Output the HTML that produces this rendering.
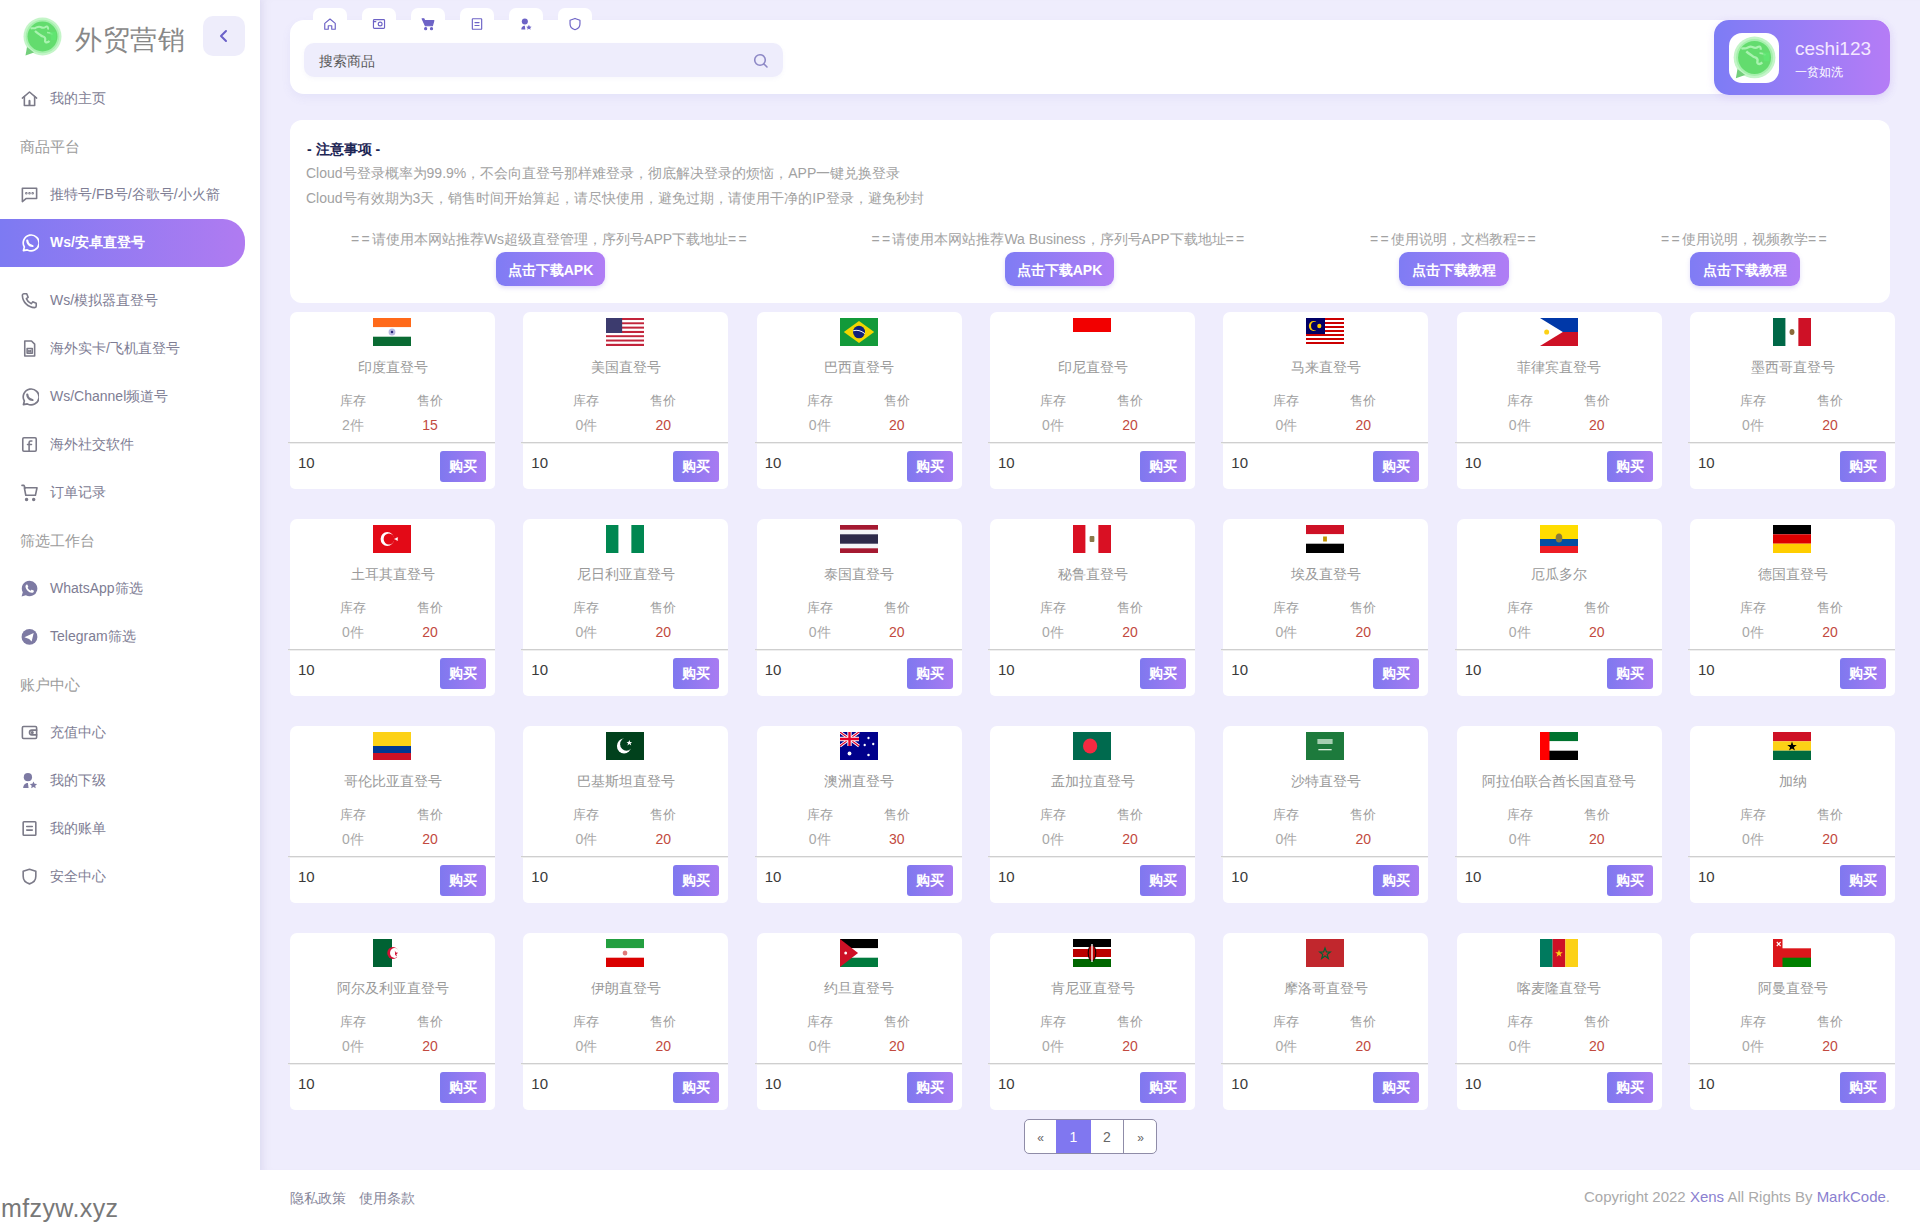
<!DOCTYPE html>
<html><head><meta charset="utf-8"><title>外贸营销</title>
<style>
*{box-sizing:border-box;margin:0;padding:0}
html,body{width:1920px;height:1225px;overflow:hidden}
body{font-family:"Liberation Sans",sans-serif;background:#fff;position:relative;color:#333}
#main{position:absolute;left:260px;top:0;width:1660px;height:1170px;background:#efedfd;box-shadow:inset 10px 0 10px -6px rgba(90,90,120,.06)}
#side{position:absolute;left:0;top:0;width:260px;height:1225px;background:#fff;box-shadow:2px 0 6px rgba(120,110,180,.06)}
.logo{position:absolute;left:22px;top:17px}
.brand{position:absolute;left:75px;top:22px;font-size:27px;color:#888;line-height:36px;letter-spacing:0.6px}
.collapse{position:absolute;left:203px;top:16px;width:42px;height:40px;border-radius:10px;background:#eeedfb}
.collapse svg{position:absolute;left:14px;top:13px}
.mi{position:absolute;left:0;width:245px;height:20px;margin-top:-10px;color:#7e7d94;font-size:14px;line-height:20px}
.mi .mico{position:absolute;left:20px;top:1px;width:19px;height:19px;color:#7b7a88}
.mi .mico.f{color:#7d7aa3}
.mi.act .mico{color:#fff}
.mi .mtx{position:absolute;left:50px;top:0;white-space:nowrap}
.mi.act{color:#fff;font-weight:bold}
.actbar{position:absolute;left:0;top:219px;width:245px;height:48px;border-radius:0 22px 22px 0;background:linear-gradient(90deg,#7d7af2 0%,#b07bf1 100%)}
.sec{position:absolute;left:20px;height:20px;margin-top:-10px;font-size:15px;line-height:20px;color:#9c9c9c}
.hdr{position:absolute;left:290px;top:20px;width:1600px;height:74px;background:#fff;border-radius:14px;box-shadow:0 4px 10px rgba(120,110,200,.08)}
.tab{position:absolute;top:8px;width:34px;height:30px;background:#fff;border-radius:7px 7px 0 0;color:#6d63c6}
.tab span{position:absolute;left:10px;top:9px;width:14px;height:14px;display:block}
.tab svg{display:block}
.search{position:absolute;left:304px;top:43px;width:479px;height:34px;border-radius:10px;background:#eeedfc;box-shadow:0 2px 4px rgba(120,110,200,.05)}
.search .ph{position:absolute;left:15px;top:10px;font-size:14px;line-height:16px;color:#5a5a5a}
.search svg{position:absolute;left:449px;top:10px}
.user{position:absolute;left:1714px;top:20px;width:176px;height:75px;border-radius:15px;background:linear-gradient(90deg,#7d7cf5 0%,#b57cf6 100%);box-shadow:0 2px 8px rgba(180,130,240,.2)}
.avatar{position:absolute;left:15px;top:13px;width:50px;height:50px;border-radius:13px;background:#fff}
.avatar svg{position:absolute;left:3px;top:3px}
.uname{position:absolute;left:81px;top:17px;font-size:19px;line-height:24px;color:#f5e8ff}
.urank{position:absolute;left:81px;top:44px;font-size:12px;line-height:16px;color:#fff}
.notice{position:absolute;left:290px;top:120px;width:1600px;height:183px;background:#fff;border-radius:12px}
.ntitle{position:absolute;left:17px;top:20px;font-size:14px;line-height:18px;font-weight:bold;color:#1d2655}
.nline{position:absolute;left:16px;font-size:14px;line-height:18px;color:#a2a2a2;white-space:nowrap}
.dl{position:absolute;top:110px;width:0}
.dl .t{position:absolute;left:-300px;width:600px;text-align:center;font-size:14px;line-height:18px;color:#a2a2a2;white-space:nowrap}
.eq{font-style:normal;letter-spacing:2.3px}
.dl .b{position:absolute;top:22px;height:34px;border-radius:9px;background:linear-gradient(90deg,#7f7cf4 0%,#b07df5 100%);color:#fff;font-size:14px;line-height:36px;font-weight:bold;text-align:center;box-shadow:0 2px 4px rgba(140,120,230,.25)}
.card{position:absolute;width:205px;height:177px;background:#fff;border-radius:7px 7px 5px 5px}
.flag{position:absolute;left:83px;top:6px;display:block}
.pname{position:absolute;left:0;width:205px;top:46px;text-align:center;font-size:14px;line-height:18px;color:#999;white-space:nowrap}
.lab{position:absolute;top:81px;width:60px;text-align:center;font-size:13px;line-height:16px;color:#9e9e9e}
.val{position:absolute;top:104px;width:60px;text-align:center;font-size:14px;line-height:18px;color:#a8a8a8}
.l1,.v1{left:33px}.l2,.v2{left:110px}
.price{color:#c24a40}
.div{position:absolute;left:-2px;top:130px;width:207px;height:1px;background:#cfcfcf;box-shadow:0 1px 0 #eeeeee}
.qty{position:absolute;left:8px;top:142px;font-size:15px;line-height:18px;color:#3a3a3a}
.buy{position:absolute;left:150px;top:139px;width:46px;height:31px;border-radius:3px;background:linear-gradient(90deg,#7f78ef 0%,#a87bf2 100%);color:#fff;font-size:14px;line-height:31px;text-align:center;font-weight:bold}
.pager{position:absolute;left:1024px;top:1119px;width:133px;height:35px;border:1px solid #8f8ca8;border-radius:5px;background:#fff;overflow:hidden}
.pg{position:absolute;top:0;height:33px;line-height:34px;text-align:center;font-size:14px;color:#666}
.footer{position:absolute;left:260px;top:1170px;width:1660px;height:55px;background:#fff}
.flinks{position:absolute;left:30px;top:20px;font-size:14px;line-height:17px;color:#86869a}
.copy{position:absolute;right:30px;top:18px;font-size:15px;line-height:18px;color:#aaa}
.copy a{color:#8a80d0;text-decoration:none}
.wm{position:absolute;left:1px;top:1193px;font-size:25px;line-height:30px;color:#787878;letter-spacing:0.4px}
</style></head><body>
<div id="main"></div>
<div id="side">
<div class="logo"><svg width="40" height="40" viewBox="0 0 40 40"><circle cx="20.5" cy="19.5" r="19" fill="#c4f5c8"/><path d="M5 30 L3.5 38.5 L12 35.5z" fill="#74cf7c"/><circle cx="20.5" cy="19.5" r="16.8" fill="#a6f0ad"/><circle cx="20.5" cy="19.5" r="15" fill="#63dc6e"/><path d="M8.5 11.5c2-1 3 .5 5-.5s3-2 5-1 3 1.5 5 0 3 1 2.5 2.5" fill="none" stroke="#a9f3af" stroke-width="2"/><path d="M13 14c2 2 4 3 6 4.5s3 .5 4 2.5-1 3 .5 4 3 0 4-1" fill="none" stroke="#a9f3af" stroke-width="2.2"/><path d="M25 15.5c2 0 4 .5 5.5 2" fill="none" stroke="#9ef0a5" stroke-width="1.6"/><path d="M28 15h6v8h-5z" fill="#5fe873" opacity=".7"/></svg></div>
<div class="brand">外贸营销</div>
<div class="collapse"><svg width="14" height="14" viewBox="0 0 14 14"><path d="M9 2L4 7l5 5" fill="none" stroke="#6a60c8" stroke-width="2" stroke-linecap="round" stroke-linejoin="round"/></svg></div>
<div class="mi" style="top:98px"><span class="mico"><svg width="19" height="19" viewBox="0 0 24 24" fill="none" stroke="currentColor" stroke-width="2" stroke-linecap="round" stroke-linejoin="round" ><path d="M3 11.5L12 3.8l9 7.7"/><path d="M5.5 9.5v11.3h13V9.5"/><path d="M12 15v5" stroke-width="2.6"/></svg></span><span class="mtx">我的主页</span></div>
<div class="sec" style="top:147px">商品平台</div>
<div class="mi" style="top:194px"><span class="mico"><svg width="19" height="19" viewBox="0 0 24 24" fill="none" stroke="currentColor" stroke-width="2" stroke-linecap="round" stroke-linejoin="round" ><path d="M3 4h18v13H8l-5 4z"/><circle cx="8" cy="10.5" r=".6"/><circle cx="12" cy="10.5" r=".6"/><circle cx="16" cy="10.5" r=".6"/></svg></span><span class="mtx">推特号/FB号/谷歌号/小火箭</span></div>
<div class="actbar"></div><div class="mi act" style="top:242px"><span class="mico"><svg width="19" height="19" viewBox="0 0 24 24" fill="none" stroke="currentColor" stroke-width="2" stroke-linecap="round" stroke-linejoin="round" ><path d="M4.3 22.3l1.2-4.6A10 10 0 1 1 9.2 21.3z" stroke-width="2.1"/><path d="M9.2 9.6c.3 3.4 3 6.2 6.6 6.8" stroke-width="2.8"/></svg></span><span class="mtx">Ws/安卓直登号</span></div>
<div class="mi" style="top:300px"><span class="mico"><svg width="19" height="19" viewBox="0 0 24 24" fill="none" stroke="currentColor" stroke-width="2" stroke-linecap="round" stroke-linejoin="round" ><path d="M5 3.5h3.5l1.8 4.5-2.3 1.6a11 11 0 0 0 6.4 6.4l1.6-2.3 4.5 1.8V19a2 2 0 0 1-2 2A16 16 0 0 1 3 5.5a2 2 0 0 1 2-2z"/></svg></span><span class="mtx">Ws/模拟器直登号</span></div>
<div class="mi" style="top:348px"><span class="mico"><svg width="19" height="19" viewBox="0 0 24 24" fill="none" stroke="currentColor" stroke-width="2" stroke-linecap="round" stroke-linejoin="round" ><path d="M6 2.5h8.5l4 4v15H6z"/><rect x="9" y="12" width="6.5" height="6"/><path d="M11.2 14.5v2M13.3 14.5v2"/></svg></span><span class="mtx">海外实卡/飞机直登号</span></div>
<div class="mi" style="top:396px"><span class="mico"><svg width="19" height="19" viewBox="0 0 24 24" fill="none" stroke="currentColor" stroke-width="2" stroke-linecap="round" stroke-linejoin="round" ><path d="M4.3 22.3l1.2-4.6A10 10 0 1 1 9.2 21.3z" stroke-width="2.1"/><path d="M9.2 9.6c.3 3.4 3 6.2 6.6 6.8" stroke-width="2.8"/></svg></span><span class="mtx">Ws/Channel频道号</span></div>
<div class="mi" style="top:444px"><span class="mico"><svg width="19" height="19" viewBox="0 0 24 24" fill="none" stroke="currentColor" stroke-width="2" stroke-linecap="round" stroke-linejoin="round" ><rect x="3.5" y="3.5" width="17" height="17" rx="1.5"/><path d="M15 7.5h-1.6c-1.2 0-1.9.7-1.9 2v11M9.5 12h5"/></svg></span><span class="mtx">海外社交软件</span></div>
<div class="mi" style="top:492px"><span class="mico"><svg width="19" height="19" viewBox="0 0 24 24" fill="none" stroke="currentColor" stroke-width="2" stroke-linecap="round" stroke-linejoin="round" ><path d="M2.5 3h2.5l1.5 3.5"/><path d="M5.5 6h16l-2 9.5H7.3z"/><circle cx="8.3" cy="20.8" r="1.2" fill="currentColor"/><circle cx="17.3" cy="20.8" r="1.2" fill="currentColor"/></svg></span><span class="mtx">订单记录</span></div>
<div class="sec" style="top:541px">筛选工作台</div>
<div class="mi" style="top:588px"><span class="mico f"><svg width="19" height="19" viewBox="0 0 24 24" ><path fill="currentColor" d="M12 2.2a9.8 9.8 0 0 0-8.5 14.6L2 22l5.4-1.4A9.8 9.8 0 1 0 12 2.2z"/><path fill="#fff" d="M8.6 6.8c.3 0 .6 0 .8.5l1 2.2c.1.3 0 .6-.2.8l-.7.8c.9 1.6 2.2 2.8 3.9 3.6l.8-.9c.2-.3.5-.3.8-.2l2.2 1c.3.2.4.5.3.8-.2 1.3-1.3 2.2-2.6 2.1-3.9-.4-7.6-4-8-8-.1-1.3.8-2.5 1.7-2.7z"/></svg></span><span class="mtx">WhatsApp筛选</span></div>
<div class="mi" style="top:636px"><span class="mico f"><svg width="19" height="19" viewBox="0 0 24 24" ><circle cx="12" cy="12.5" r="10" fill="currentColor"/><path fill="#fff" d="M5.5 12.8l11.8-5.3-2.6 10.8-3.2-3.3z"/></svg></span><span class="mtx">Telegram筛选</span></div>
<div class="sec" style="top:685px">账户中心</div>
<div class="mi" style="top:732px"><span class="mico"><svg width="19" height="19" viewBox="0 0 24 24" fill="none" stroke="currentColor" stroke-width="2" stroke-linecap="round" stroke-linejoin="round" ><rect x="3" y="4.5" width="18" height="15" rx="1.5"/><path d="M21 9h-6a3 3 0 0 0 0 6h6"/><circle cx="15.5" cy="12" r="1"/></svg></span><span class="mtx">充值中心</span></div>
<div class="mi" style="top:780px"><span class="mico f"><svg width="19" height="19" viewBox="0 0 24 24" ><circle cx="10" cy="7.8" r="5.2" fill="currentColor"/><path fill="currentColor" d="M4 21.5c0-3.2 1.8-5.6 4.6-6.3l1.4-.2.8 6.5z"/><polygon fill="currentColor" points="17,13.2 18.4,16.2 21.6,16.5 19.2,18.7 19.9,21.8 17,20.2 14.1,21.8 14.8,18.7 12.4,16.5 15.6,16.2"/></svg></span><span class="mtx">我的下级</span></div>
<div class="mi" style="top:828px"><span class="mico"><svg width="19" height="19" viewBox="0 0 24 24" fill="none" stroke="currentColor" stroke-width="2" stroke-linecap="round" stroke-linejoin="round" ><rect x="4" y="3.5" width="16" height="17" rx="1"/><path d="M8.5 9.5h7M8.5 14h7"/></svg></span><span class="mtx">我的账单</span></div>
<div class="mi" style="top:876px"><span class="mico"><svg width="19" height="19" viewBox="0 0 24 24" fill="none" stroke="currentColor" stroke-width="2" stroke-linecap="round" stroke-linejoin="round" ><path d="M12 2.8l8 2.7v6.2c0 4.7-3.3 8.3-8 9.6-4.7-1.3-8-4.9-8-9.6V5.5z"/></svg></span><span class="mtx">安全中心</span></div>

</div>
<div class="hdr"></div>
<div class="tab" style="left:313px"><span><svg width="14" height="14" viewBox="0 0 24 24" fill="none" stroke="currentColor" stroke-width="2" stroke-linecap="round" stroke-linejoin="round" stroke-width="2.6"><path d="M3 11L12 3.5 21 11v10h-6v-6h-6v6H3z"/></svg></span></div><div class="tab" style="left:362px"><span><svg width="14" height="14" viewBox="0 0 24 24" fill="none" stroke="currentColor" stroke-width="2" stroke-linecap="round" stroke-linejoin="round" stroke-width="2.3"><rect x="2.5" y="4.5" width="19" height="15" rx="1.5"/><circle cx="14" cy="12" r="3.3"/><path d="M2.5 8h4"/></svg></span></div><div class="tab" style="left:411px"><span><svg width="14" height="14" viewBox="0 0 24 24" fill="none" stroke="currentColor" stroke-width="2" stroke-linecap="round" stroke-linejoin="round" stroke-width="1.5"><path d="M2 3h3l1 3h16l-2.5 9H7.5z" fill="currentColor"/><circle cx="8" cy="20" r="1.8" fill="currentColor"/><circle cx="18" cy="20" r="1.8" fill="currentColor"/></svg></span></div><div class="tab" style="left:460px"><span><svg width="14" height="14" viewBox="0 0 24 24" fill="none" stroke="currentColor" stroke-width="2" stroke-linecap="round" stroke-linejoin="round" stroke-width="2.3"><rect x="4" y="3" width="16" height="18" rx="1"/><path d="M8.5 9.5h7M8.5 14.5h7"/></svg></span></div><div class="tab" style="left:509px"><span><svg width="14" height="14" viewBox="0 0 24 24" ><circle cx="10" cy="7.8" r="5.2" fill="currentColor"/><path fill="currentColor" d="M4 21.5c0-3.2 1.8-5.6 4.6-6.3l1.4-.2.8 6.5z"/><polygon fill="currentColor" points="17,13.2 18.4,16.2 21.6,16.5 19.2,18.7 19.9,21.8 17,20.2 14.1,21.8 14.8,18.7 12.4,16.5 15.6,16.2"/></svg></span></div><div class="tab" style="left:558px"><span><svg width="14" height="14" viewBox="0 0 24 24" fill="none" stroke="currentColor" stroke-width="2" stroke-linecap="round" stroke-linejoin="round" stroke-width="2.3"><path d="M12 2.5l8.5 3v6.5c0 4.8-3.5 8.4-8.5 9.8-5-1.4-8.5-5-8.5-9.8V5.5z"/></svg></span></div>
<div class="search"><span class="ph">搜索商品</span><svg width="16" height="16" viewBox="0 0 16 16"><circle cx="7" cy="7" r="5.3" fill="none" stroke="#8d88c6" stroke-width="1.6"/><path d="M11 11l3 3" stroke="#8d88c6" stroke-width="1.6" stroke-linecap="round"/></svg></div>
<div class="user"><div class="avatar"><svg width="44" height="44" viewBox="0 0 40 40"><circle cx="20.5" cy="19.5" r="19" fill="#c4f5c8"/><path d="M5 30 L3.5 38.5 L12 35.5z" fill="#74cf7c"/><circle cx="20.5" cy="19.5" r="16.8" fill="#a6f0ad"/><circle cx="20.5" cy="19.5" r="15" fill="#63dc6e"/><path d="M8.5 11.5c2-1 3 .5 5-.5s3-2 5-1 3 1.5 5 0 3 1 2.5 2.5" fill="none" stroke="#a9f3af" stroke-width="2"/><path d="M13 14c2 2 4 3 6 4.5s3 .5 4 2.5-1 3 .5 4 3 0 4-1" fill="none" stroke="#a9f3af" stroke-width="2.2"/><path d="M25 15.5c2 0 4 .5 5.5 2" fill="none" stroke="#9ef0a5" stroke-width="1.6"/><path d="M28 15h6v8h-5z" fill="#5fe873" opacity=".7"/></svg></div><div class="uname">ceshi123</div><div class="urank">一贫如洗</div></div>
<div class="notice">
<div class="ntitle">- 注意事项 -</div>
<div class="nline" style="top:44px">Cloud号登录概率为99.9%，不会向直登号那样难登录，彻底解决登录的烦恼，APP一键兑换登录</div>
<div class="nline" style="top:69px">Cloud号有效期为3天，销售时间开始算起，请尽快使用，避免过期，请使用干净的IP登录，避免秒封</div>
<div class="dl" style="left:260px"><div class="t"><i class="eq">==</i>请使用本网站推荐Ws超级直登管理，序列号APP下载地址<i class="eq">==</i></div><div class="b" style="left:-54px;width:109px">点击下载APK</div></div>
<div class="dl" style="left:769px"><div class="t"><i class="eq">==</i>请使用本网站推荐Wa Business，序列号APP下载地址<i class="eq">==</i></div><div class="b" style="left:-54px;width:109px">点击下载APK</div></div>
<div class="dl" style="left:1164px"><div class="t"><i class="eq">==</i>使用说明，文档教程<i class="eq">==</i></div><div class="b" style="left:-55px;width:110px">点击下载教程</div></div>
<div class="dl" style="left:1455px"><div class="t"><i class="eq">==</i>使用说明，视频教学<i class="eq">==</i></div><div class="b" style="left:-55px;width:110px">点击下载教程</div></div>
</div>
<div class="card" style="left:290.0px;top:312px"><svg class="flag" width="38" height="28" viewBox="0 0 40 28" preserveAspectRatio="none"><rect width="40" height="9.3" fill="#ff6a1a"/><rect y="9.3" width="40" height="9.4" fill="#fff"/><rect y="18.7" width="40" height="9.3" fill="#0a6b33"/><circle cx="20" cy="14" r="3.6" fill="#b9b8e0"/><circle cx="20" cy="14" r="1.3" fill="#26267a"/></svg><div class="pname">印度直登号</div>
<div class="lab l1">库存</div><div class="lab l2">售价</div><div class="val v1">2件</div><div class="val v2 price">15</div>
<div class="div"></div><div class="qty">10</div><div class="buy">购买</div></div>
<div class="card" style="left:523.3px;top:312px"><svg class="flag" width="38" height="28" viewBox="0 0 40 28" preserveAspectRatio="none"><rect y="0.00" width="40" height="2.20" fill="#c2243b"/><rect y="2.15" width="40" height="2.20" fill="#fff"/><rect y="4.31" width="40" height="2.20" fill="#c2243b"/><rect y="6.46" width="40" height="2.20" fill="#fff"/><rect y="8.62" width="40" height="2.20" fill="#c2243b"/><rect y="10.77" width="40" height="2.20" fill="#fff"/><rect y="12.92" width="40" height="2.20" fill="#c2243b"/><rect y="15.08" width="40" height="2.20" fill="#fff"/><rect y="17.23" width="40" height="2.20" fill="#c2243b"/><rect y="19.38" width="40" height="2.20" fill="#fff"/><rect y="21.54" width="40" height="2.20" fill="#c2243b"/><rect y="23.69" width="40" height="2.20" fill="#fff"/><rect y="25.85" width="40" height="2.20" fill="#c2243b"/><rect width="17" height="15" fill="#3c3b6e"/></svg><div class="pname">美国直登号</div>
<div class="lab l1">库存</div><div class="lab l2">售价</div><div class="val v1">0件</div><div class="val v2 price">20</div>
<div class="div"></div><div class="qty">10</div><div class="buy">购买</div></div>
<div class="card" style="left:756.7px;top:312px"><svg class="flag" width="38" height="28" viewBox="0 0 40 28" preserveAspectRatio="none"><rect width="40" height="28" fill="#139a3a"/><polygon points="20,3 36,14 20,25 4,14" fill="#f2d600"/><circle cx="20" cy="14" r="6.3" fill="#12217a"/><path d="M13.8 12.8 Q20 11 26.2 15.6" stroke="#fff" stroke-width="1" fill="none"/></svg><div class="pname">巴西直登号</div>
<div class="lab l1">库存</div><div class="lab l2">售价</div><div class="val v1">0件</div><div class="val v2 price">20</div>
<div class="div"></div><div class="qty">10</div><div class="buy">购买</div></div>
<div class="card" style="left:990.0px;top:312px"><svg class="flag" width="38" height="28" viewBox="0 0 40 28" preserveAspectRatio="none"><rect width="40" height="14" fill="#f20000"/></svg><div class="pname">印尼直登号</div>
<div class="lab l1">库存</div><div class="lab l2">售价</div><div class="val v1">0件</div><div class="val v2 price">20</div>
<div class="div"></div><div class="qty">10</div><div class="buy">购买</div></div>
<div class="card" style="left:1223.3px;top:312px"><svg class="flag" width="38" height="28" viewBox="0 0 40 28" preserveAspectRatio="none"><rect y="0.00" width="40" height="2.05" fill="#cc0001"/><rect y="2.00" width="40" height="2.05" fill="#fff"/><rect y="4.00" width="40" height="2.05" fill="#cc0001"/><rect y="6.00" width="40" height="2.05" fill="#fff"/><rect y="8.00" width="40" height="2.05" fill="#cc0001"/><rect y="10.00" width="40" height="2.05" fill="#fff"/><rect y="12.00" width="40" height="2.05" fill="#cc0001"/><rect y="14.00" width="40" height="2.05" fill="#fff"/><rect y="16.00" width="40" height="2.05" fill="#cc0001"/><rect y="18.00" width="40" height="2.05" fill="#fff"/><rect y="20.00" width="40" height="2.05" fill="#cc0001"/><rect y="22.00" width="40" height="2.05" fill="#fff"/><rect y="24.00" width="40" height="2.05" fill="#cc0001"/><rect y="26.00" width="40" height="2.05" fill="#fff"/><rect width="20" height="16" fill="#010066"/><circle cx="8" cy="8" r="5" fill="#fc0"/><circle cx="9.5" cy="8" r="4.2" fill="#010066"/><circle cx="14" cy="8" r="2.2" fill="#fc0"/></svg><div class="pname">马来直登号</div>
<div class="lab l1">库存</div><div class="lab l2">售价</div><div class="val v1">0件</div><div class="val v2 price">20</div>
<div class="div"></div><div class="qty">10</div><div class="buy">购买</div></div>
<div class="card" style="left:1456.7px;top:312px"><svg class="flag" width="38" height="28" viewBox="0 0 40 28" preserveAspectRatio="none"><rect width="40" height="14" fill="#0038a8"/><rect y="14" width="40" height="14" fill="#ce1126"/><polygon points="0,0 24,14 0,28" fill="#fff"/><circle cx="7" cy="14" r="2.6" fill="#fcd116"/></svg><div class="pname">菲律宾直登号</div>
<div class="lab l1">库存</div><div class="lab l2">售价</div><div class="val v1">0件</div><div class="val v2 price">20</div>
<div class="div"></div><div class="qty">10</div><div class="buy">购买</div></div>
<div class="card" style="left:1690.0px;top:312px"><svg class="flag" width="38" height="28" viewBox="0 0 40 28" preserveAspectRatio="none"><rect width="13.3" height="28" fill="#006847"/><rect x="13.3" width="13.4" height="28" fill="#fff"/><rect x="26.7" width="13.3" height="28" fill="#ce1126"/><ellipse cx="20" cy="14" rx="2.6" ry="3" fill="#8a6a3a"/></svg><div class="pname">墨西哥直登号</div>
<div class="lab l1">库存</div><div class="lab l2">售价</div><div class="val v1">0件</div><div class="val v2 price">20</div>
<div class="div"></div><div class="qty">10</div><div class="buy">购买</div></div>
<div class="card" style="left:290.0px;top:519px"><svg class="flag" width="38" height="28" viewBox="0 0 40 28" preserveAspectRatio="none"><rect width="40" height="28" fill="#e30a17"/><circle cx="15" cy="14" r="7" fill="#fff"/><circle cx="16.8" cy="14" r="5.6" fill="#e30a17"/><polygon points="22,14 26.5,12.3 25,16.6 25,11.4 26.5,15.7" fill="#fff"/></svg><div class="pname">土耳其直登号</div>
<div class="lab l1">库存</div><div class="lab l2">售价</div><div class="val v1">0件</div><div class="val v2 price">20</div>
<div class="div"></div><div class="qty">10</div><div class="buy">购买</div></div>
<div class="card" style="left:523.3px;top:519px"><svg class="flag" width="38" height="28" viewBox="0 0 40 28" preserveAspectRatio="none"><rect width="13.3" height="28" fill="#008751"/><rect x="13.3" width="13.4" height="28" fill="#fff"/><rect x="26.7" width="13.3" height="28" fill="#008751"/></svg><div class="pname">尼日利亚直登号</div>
<div class="lab l1">库存</div><div class="lab l2">售价</div><div class="val v1">0件</div><div class="val v2 price">20</div>
<div class="div"></div><div class="qty">10</div><div class="buy">购买</div></div>
<div class="card" style="left:756.7px;top:519px"><svg class="flag" width="38" height="28" viewBox="0 0 40 28" preserveAspectRatio="none"><rect width="40" height="28" fill="#a51931"/><rect y="4.7" width="40" height="18.6" fill="#f4f5f8"/><rect y="9.3" width="40" height="9.4" fill="#2d2a4a"/></svg><div class="pname">泰国直登号</div>
<div class="lab l1">库存</div><div class="lab l2">售价</div><div class="val v1">0件</div><div class="val v2 price">20</div>
<div class="div"></div><div class="qty">10</div><div class="buy">购买</div></div>
<div class="card" style="left:990.0px;top:519px"><svg class="flag" width="38" height="28" viewBox="0 0 40 28" preserveAspectRatio="none"><rect width="13.3" height="28" fill="#d91023"/><rect x="13.3" width="13.4" height="28" fill="#fff"/><rect x="26.7" width="13.3" height="28" fill="#d91023"/><rect x="17.5" y="11" width="5" height="6" rx="1" fill="#8a7a4a"/></svg><div class="pname">秘鲁直登号</div>
<div class="lab l1">库存</div><div class="lab l2">售价</div><div class="val v1">0件</div><div class="val v2 price">20</div>
<div class="div"></div><div class="qty">10</div><div class="buy">购买</div></div>
<div class="card" style="left:1223.3px;top:519px"><svg class="flag" width="38" height="28" viewBox="0 0 40 28" preserveAspectRatio="none"><rect width="40" height="9.3" fill="#ce1126"/><rect y="9.3" width="40" height="9.4" fill="#fff"/><rect y="18.7" width="40" height="9.3" fill="#000"/><rect x="18" y="11.5" width="4" height="5" fill="#c09300"/></svg><div class="pname">埃及直登号</div>
<div class="lab l1">库存</div><div class="lab l2">售价</div><div class="val v1">0件</div><div class="val v2 price">20</div>
<div class="div"></div><div class="qty">10</div><div class="buy">购买</div></div>
<div class="card" style="left:1456.7px;top:519px"><svg class="flag" width="38" height="28" viewBox="0 0 40 28" preserveAspectRatio="none"><rect width="40" height="14" fill="#ffdd00"/><rect y="14" width="40" height="7" fill="#034ea2"/><rect y="21" width="40" height="7" fill="#ed1c24"/><ellipse cx="20" cy="13" rx="3.5" ry="4.5" fill="#8a7a3a"/></svg><div class="pname">厄瓜多尔</div>
<div class="lab l1">库存</div><div class="lab l2">售价</div><div class="val v1">0件</div><div class="val v2 price">20</div>
<div class="div"></div><div class="qty">10</div><div class="buy">购买</div></div>
<div class="card" style="left:1690.0px;top:519px"><svg class="flag" width="38" height="28" viewBox="0 0 40 28" preserveAspectRatio="none"><rect width="40" height="9.3" fill="#000"/><rect y="9.3" width="40" height="9.4" fill="#dd0000"/><rect y="18.7" width="40" height="9.3" fill="#ffce00"/></svg><div class="pname">德国直登号</div>
<div class="lab l1">库存</div><div class="lab l2">售价</div><div class="val v1">0件</div><div class="val v2 price">20</div>
<div class="div"></div><div class="qty">10</div><div class="buy">购买</div></div>
<div class="card" style="left:290.0px;top:726px"><svg class="flag" width="38" height="28" viewBox="0 0 40 28" preserveAspectRatio="none"><rect width="40" height="14" fill="#fcd116"/><rect y="14" width="40" height="7" fill="#003893"/><rect y="21" width="40" height="7" fill="#ce1126"/></svg><div class="pname">哥伦比亚直登号</div>
<div class="lab l1">库存</div><div class="lab l2">售价</div><div class="val v1">0件</div><div class="val v2 price">20</div>
<div class="div"></div><div class="qty">10</div><div class="buy">购买</div></div>
<div class="card" style="left:523.3px;top:726px"><svg class="flag" width="38" height="28" viewBox="0 0 40 28" preserveAspectRatio="none"><rect width="40" height="28" fill="#01411c"/><circle cx="19" cy="14" r="7.5" fill="#fff"/><circle cx="21.5" cy="12.2" r="6.6" fill="#01411c"/><polygon points="24.5,8 25.4,10 27.5,10 25.9,11.3 26.5,13.4 24.5,12.1 22.6,13.4 23.2,11.3 21.6,10 23.7,10" fill="#fff"/></svg><div class="pname">巴基斯坦直登号</div>
<div class="lab l1">库存</div><div class="lab l2">售价</div><div class="val v1">0件</div><div class="val v2 price">20</div>
<div class="div"></div><div class="qty">10</div><div class="buy">购买</div></div>
<div class="card" style="left:756.7px;top:726px"><svg class="flag" width="38" height="28" viewBox="0 0 40 28" preserveAspectRatio="none"><rect width="40" height="28" fill="#00008b"/><path d="M0 0L20 14M20 0L0 14" stroke="#fff" stroke-width="3"/><path d="M0 0L20 14M20 0L0 14" stroke="#e4002b" stroke-width="1.2"/><path d="M10 0V14M0 7H20" stroke="#fff" stroke-width="4.5"/><path d="M10 0V14M0 7H20" stroke="#e4002b" stroke-width="2.5"/><circle cx="10" cy="21.5" r="2" fill="#fff"/><circle cx="30" cy="6" r="1.2" fill="#fff"/><circle cx="35" cy="12" r="1.2" fill="#fff"/><circle cx="26" cy="13" r="1.2" fill="#fff"/><circle cx="30" cy="23" r="1.3" fill="#fff"/></svg><div class="pname">澳洲直登号</div>
<div class="lab l1">库存</div><div class="lab l2">售价</div><div class="val v1">0件</div><div class="val v2 price">30</div>
<div class="div"></div><div class="qty">10</div><div class="buy">购买</div></div>
<div class="card" style="left:990.0px;top:726px"><svg class="flag" width="38" height="28" viewBox="0 0 40 28" preserveAspectRatio="none"><rect width="40" height="28" fill="#006a4e"/><circle cx="18" cy="14" r="7.5" fill="#f42a41"/></svg><div class="pname">孟加拉直登号</div>
<div class="lab l1">库存</div><div class="lab l2">售价</div><div class="val v1">0件</div><div class="val v2 price">20</div>
<div class="div"></div><div class="qty">10</div><div class="buy">购买</div></div>
<div class="card" style="left:1223.3px;top:726px"><svg class="flag" width="38" height="28" viewBox="0 0 40 28" preserveAspectRatio="none"><rect width="40" height="28" fill="#1d7a3c"/><rect x="12" y="7" width="16" height="5" fill="#c9e5cf" opacity=".8"/><rect x="13" y="17" width="14" height="1.3" fill="#d9eedd"/></svg><div class="pname">沙特直登号</div>
<div class="lab l1">库存</div><div class="lab l2">售价</div><div class="val v1">0件</div><div class="val v2 price">20</div>
<div class="div"></div><div class="qty">10</div><div class="buy">购买</div></div>
<div class="card" style="left:1456.7px;top:726px"><svg class="flag" width="38" height="28" viewBox="0 0 40 28" preserveAspectRatio="none"><rect width="40" height="9.3" fill="#00732f"/><rect y="9.3" width="40" height="9.4" fill="#fff"/><rect y="18.7" width="40" height="9.3" fill="#000"/><rect width="10" height="28" fill="#ff0000"/></svg><div class="pname">阿拉伯联合酋长国直登号</div>
<div class="lab l1">库存</div><div class="lab l2">售价</div><div class="val v1">0件</div><div class="val v2 price">20</div>
<div class="div"></div><div class="qty">10</div><div class="buy">购买</div></div>
<div class="card" style="left:1690.0px;top:726px"><svg class="flag" width="38" height="28" viewBox="0 0 40 28" preserveAspectRatio="none"><rect width="40" height="9.3" fill="#ce1126"/><rect y="9.3" width="40" height="9.4" fill="#fcd116"/><rect y="18.7" width="40" height="9.3" fill="#006b3f"/><polygon points="20,9.6 21.3,13 25,13 22,15.2 23.1,18.6 20,16.5 16.9,18.6 18,15.2 15,13 18.7,13" fill="#000"/></svg><div class="pname">加纳</div>
<div class="lab l1">库存</div><div class="lab l2">售价</div><div class="val v1">0件</div><div class="val v2 price">20</div>
<div class="div"></div><div class="qty">10</div><div class="buy">购买</div></div>
<div class="card" style="left:290.0px;top:933px"><svg class="flag" width="38" height="28" viewBox="0 0 40 28" preserveAspectRatio="none"><rect width="20" height="28" fill="#006233"/><rect x="20" width="20" height="28" fill="#fff"/><circle cx="21" cy="14" r="6" fill="#d21034"/><circle cx="22.8" cy="14" r="4.9" fill="#fff"/><polygon points="23,11.5 24,13.5 26.5,13.8 24.6,15.2 25.2,17.5 23.3,16 " fill="#d21034"/></svg><div class="pname">阿尔及利亚直登号</div>
<div class="lab l1">库存</div><div class="lab l2">售价</div><div class="val v1">0件</div><div class="val v2 price">20</div>
<div class="div"></div><div class="qty">10</div><div class="buy">购买</div></div>
<div class="card" style="left:523.3px;top:933px"><svg class="flag" width="38" height="28" viewBox="0 0 40 28" preserveAspectRatio="none"><rect width="40" height="9.3" fill="#239f40"/><rect y="9.3" width="40" height="9.4" fill="#fff"/><rect y="18.7" width="40" height="9.3" fill="#da0000"/><circle cx="20" cy="14" r="2.5" fill="#e07a7a"/></svg><div class="pname">伊朗直登号</div>
<div class="lab l1">库存</div><div class="lab l2">售价</div><div class="val v1">0件</div><div class="val v2 price">20</div>
<div class="div"></div><div class="qty">10</div><div class="buy">购买</div></div>
<div class="card" style="left:756.7px;top:933px"><svg class="flag" width="38" height="28" viewBox="0 0 40 28" preserveAspectRatio="none"><rect width="40" height="9.3" fill="#000"/><rect y="9.3" width="40" height="9.4" fill="#fff"/><rect y="18.7" width="40" height="9.3" fill="#007a3d"/><polygon points="0,0 19,14 0,28" fill="#ce1126"/><circle cx="6" cy="14" r="1.5" fill="#fff"/></svg><div class="pname">约旦直登号</div>
<div class="lab l1">库存</div><div class="lab l2">售价</div><div class="val v1">0件</div><div class="val v2 price">20</div>
<div class="div"></div><div class="qty">10</div><div class="buy">购买</div></div>
<div class="card" style="left:990.0px;top:933px"><svg class="flag" width="38" height="28" viewBox="0 0 40 28" preserveAspectRatio="none"><rect width="40" height="28" fill="#fff"/><rect width="40" height="8" fill="#000"/><rect y="10" width="40" height="8" fill="#bb0000"/><rect y="20" width="40" height="8" fill="#006600"/><ellipse cx="20" cy="14" rx="4" ry="8" fill="#bb0000" stroke="#000" stroke-width="1"/><rect x="19.3" y="5" width="1.4" height="18" fill="#fff"/></svg><div class="pname">肯尼亚直登号</div>
<div class="lab l1">库存</div><div class="lab l2">售价</div><div class="val v1">0件</div><div class="val v2 price">20</div>
<div class="div"></div><div class="qty">10</div><div class="buy">购买</div></div>
<div class="card" style="left:1223.3px;top:933px"><svg class="flag" width="38" height="28" viewBox="0 0 40 28" preserveAspectRatio="none"><rect width="40" height="28" fill="#c1272d"/><polygon points="20,9 21.5,13 25.5,13 22.3,15.5 23.5,19.5 20,17 16.5,19.5 17.7,15.5 14.5,13 18.5,13" fill="none" stroke="#006233" stroke-width="1.2"/></svg><div class="pname">摩洛哥直登号</div>
<div class="lab l1">库存</div><div class="lab l2">售价</div><div class="val v1">0件</div><div class="val v2 price">20</div>
<div class="div"></div><div class="qty">10</div><div class="buy">购买</div></div>
<div class="card" style="left:1456.7px;top:933px"><svg class="flag" width="38" height="28" viewBox="0 0 40 28" preserveAspectRatio="none"><rect width="13.3" height="28" fill="#007a5e"/><rect x="13.3" width="13.4" height="28" fill="#ce1126"/><rect x="26.7" width="13.3" height="28" fill="#fcd116"/><polygon points="20,10.5 21,13.3 24,13.3 21.6,15 22.5,17.8 20,16.1 17.5,17.8 18.4,15 16,13.3 19,13.3" fill="#fcd116"/></svg><div class="pname">喀麦隆直登号</div>
<div class="lab l1">库存</div><div class="lab l2">售价</div><div class="val v1">0件</div><div class="val v2 price">20</div>
<div class="div"></div><div class="qty">10</div><div class="buy">购买</div></div>
<div class="card" style="left:1690.0px;top:933px"><svg class="flag" width="38" height="28" viewBox="0 0 40 28" preserveAspectRatio="none"><rect width="40" height="28" fill="#db161b"/><rect x="10" width="30" height="9.3" fill="#fff"/><rect x="10" y="18.7" width="30" height="9.3" fill="#008000"/><path d="M4 3 L8 7 M8 3 L4 7" stroke="#fff" stroke-width="1.2"/></svg><div class="pname">阿曼直登号</div>
<div class="lab l1">库存</div><div class="lab l2">售价</div><div class="val v1">0件</div><div class="val v2 price">20</div>
<div class="div"></div><div class="qty">10</div><div class="buy">购买</div></div>

<div class="pager"><div class="pg" style="left:0;width:31px;font-size:12px;padding-top:1px">&laquo;</div><div class="pg" style="left:31px;width:35px;background:#8077f0;color:#fff">1</div><div class="pg" style="left:66px;width:32px">2</div><div class="pg" style="left:98px;width:1px;background:#8f8ca8"></div><div class="pg" style="left:99px;width:33px;font-size:12px;padding-top:1px">&raquo;</div></div>
<div class="footer"><div class="flinks">隐私政策<span style="margin-left:13px">使用条款</span></div><div class="copy">Copyright 2022 <a>Xens</a> All Rights By <a>MarkCode</a>.</div></div>
<div class="wm">mfzyw.xyz</div>
</body></html>
